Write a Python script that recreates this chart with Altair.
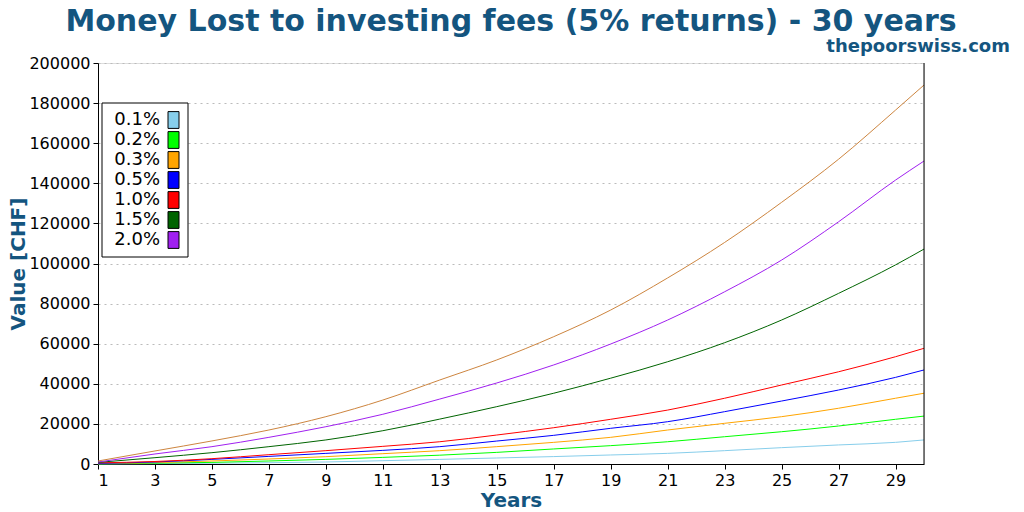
import altair as alt
import pandas as pd

years = [1, 3, 5, 7, 9, 11, 13, 15, 17, 19, 21, 23, 25, 27, 29, 30]

fees = ["0.1%", "0.2%", "0.3%", "0.5%", "1.0%", "1.5%", "2.0%", "2.5%"]
colors = ["#87ceeb", "#00ff00", "#ffa500", "#0000ff", "#ff0000", "#006400", "#a020f0", "#cd853f"]

fee_0_1 = [50, 200, 400, 650, 1000, 1650, 2300, 3000, 3700, 4500, 5300, 6650, 8150, 9500, 10800, 12000]
fee_0_2 = [100, 400, 800, 1500, 2300, 3300, 4400, 5800, 7500, 9150, 11100, 13600, 16100, 18950, 22300, 23900]
fee_0_3 = [200, 700, 1500, 2500, 3650, 5150, 6650, 8650, 10800, 13300, 16950, 20300, 23600, 27800, 32800, 35300]
fee_0_5 = [300, 1000, 2300, 3800, 5300, 6800, 8650, 11450, 14300, 17800, 21100, 26100, 31400, 36900, 43200, 46900]
fee_1_0 = [600, 1250, 2650, 4650, 6650, 8800, 11100, 14450, 18100, 22300, 26900, 32800, 39400, 46000, 53500, 57700]
fee_1_5 = [800, 3150, 5650, 8650, 12000, 16600, 22400, 28600, 35300, 42800, 51000, 60500, 71800, 85100, 99300, 107200]
fee_2_0 = [1000, 5000, 8650, 13300, 18600, 24800, 32400, 40400, 49400, 59850, 71800, 85900, 101700, 120800, 141600, 151100]
fee_2_5 = [1500, 6500, 11500, 16950, 23600, 31900, 41900, 51900, 63500, 76800, 92800, 110500, 130500, 152000, 176500, 189000]

series = [fee_0_1, fee_0_2, fee_0_3, fee_0_5, fee_1_0, fee_1_5, fee_2_0, fee_2_5]

legend_labels = fees[:7]

x_ticks = list(range(1, 30, 2))
y_ticks = list(range(0, 200001, 20000))

title_text = "Money Lost to investing fees (5% returns) - 30 years"
site_text = ["thepoorswiss.com"]

BLUE = "#14557f"
FONT = "DejaVu Sans"

rows = []
for fee, vals in zip(fees, series):
    for yr, v in zip(years, vals):
        rows.append({"year": yr, "value": v, "fee": fee})
df = pd.DataFrame(rows)

leg = pd.DataFrame({"fee": legend_labels, "i": list(range(len(legend_labels)))})
one = pd.DataFrame({"site": site_text})

W, H = 826, 401

color_scale = alt.Scale(domain=fees, range=colors)

lines = alt.Chart(df).mark_line(strokeWidth=1, interpolate="monotone").encode(
    x=alt.X("year:Q", scale=alt.Scale(domain=[1, 30], nice=False, zero=False),
            axis=alt.Axis(values=x_ticks, title="Years", grid=False, format="d",
                          labelFontSize=16, labelFont=FONT, labelColor="black",
                          tickColor="black", domainColor="black", tickSize=5,
                          titleFontSize=20, titleFont=FONT, titleFontWeight="bold",
                          titleColor=BLUE, titlePadding=2, labelPadding=3)),
    y=alt.Y("value:Q", scale=alt.Scale(domain=[0, 200000], nice=False),
            axis=alt.Axis(values=y_ticks, title="Value [CHF]", grid=True, format="d",
                          gridColor="#bbbbbb", gridDash=[2, 4], gridWidth=1,
                          labelFontSize=16, labelFont=FONT, labelColor="black",
                          tickColor="black", domainColor="black", tickSize=5,
                          titleFontSize=20, titleFont=FONT, titleFontWeight="bold",
                          titleColor=BLUE, titlePadding=0, labelPadding=3)),
    color=alt.Color("fee:N", scale=color_scale, legend=None),
    detail="fee:N",
)

right_border = alt.Chart(one).mark_rule(color="black", strokeWidth=1).encode(
    x=alt.value(W), y=alt.value(0), y2=alt.value(H)
)

legend_box = alt.Chart(one).mark_rect(fill="white", stroke="black", strokeWidth=1).encode(
    x=alt.value(4), x2=alt.value(90), y=alt.value(40), y2=alt.value(194)
)

leg_y = alt.Scale(domain=[0, 6], range=[57, 177])

legend_text = alt.Chart(leg).mark_text(align="right", baseline="middle", fontSize=18,
                                       font=FONT, color="black").encode(
    x=alt.value(62),
    y=alt.Y("i:Q", scale=leg_y, axis=None),
    text="fee:N",
)

legend_swatch = alt.Chart(leg).transform_calculate(
    top="datum.i - 0.42", bot="datum.i + 0.42"
).mark_rect(stroke="black", strokeWidth=1).encode(
    x=alt.value(70), x2=alt.value(81),
    y=alt.Y("top:Q", scale=leg_y, axis=None),
    y2="bot:Q",
    color=alt.Color("fee:N", scale=color_scale, legend=None),
)

site = alt.Chart(one).mark_text(align="right", baseline="alphabetic", fontSize=18,
                                font=FONT, fontWeight="bold", color=BLUE).encode(
    x=alt.value(W + 86), y=alt.value(-11), text="site:N"
)

chart = alt.layer(lines, right_border, legend_box, legend_text, legend_swatch, site).resolve_scale(
    y="independent"
).properties(
    width=W, height=H,
    title=alt.Title(title_text,
                    fontSize=30, font=FONT, fontWeight="bold", color=BLUE,
                    anchor="middle", offset=1),
    padding={"left": 0, "top": -1, "right": 0, "bottom": 0},
).configure_view(stroke=None).configure(background="white")

chart.save("out.html", embed_options={"renderer": "svg", "actions": False})
